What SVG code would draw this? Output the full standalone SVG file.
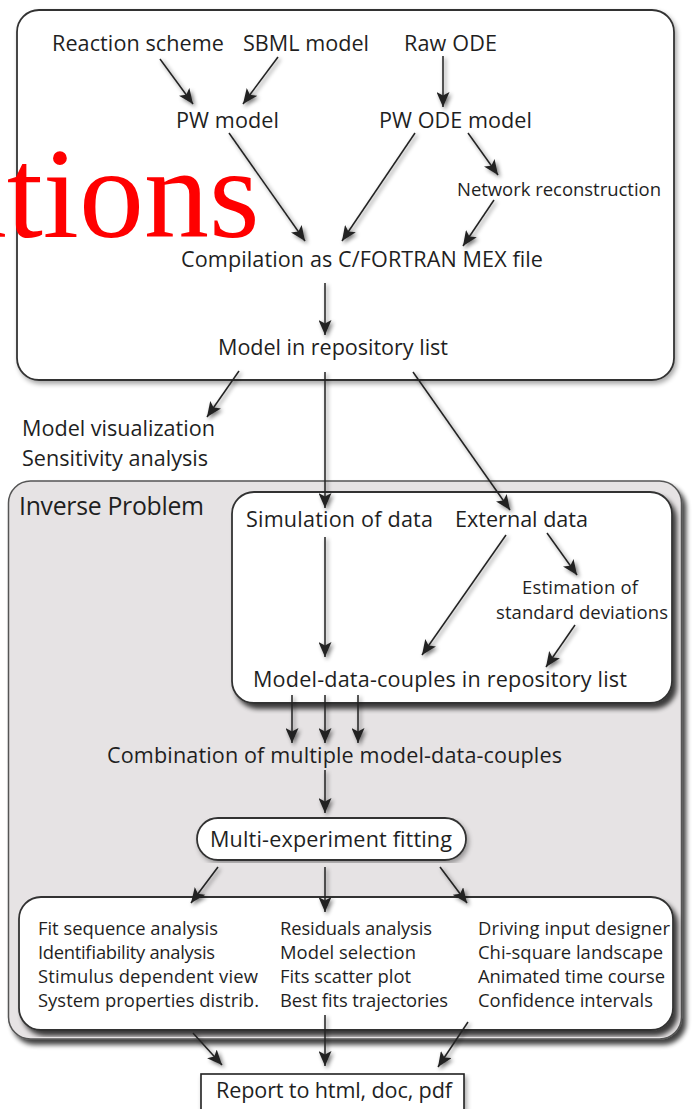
<svg xmlns="http://www.w3.org/2000/svg" width="698" height="1109" viewBox="0 0 698 1109">
<defs>
<style>
.t{font-family:"Open Sans","Noto Sans",sans-serif;fill:#1f1f1f;font-size:21.6px}
.s{font-size:18.5px}
.l{font-size:18.4px}
.h{font-size:24.8px}
.ln{stroke:#222;stroke-width:1.5;fill:none;marker-end:url(#ah)}
.box{fill:#fff;stroke:#333;stroke-width:1.8}
</style>
<marker id="ah" viewBox="0 0 16 13" markerUnits="userSpaceOnUse" markerWidth="16" markerHeight="13" refX="15" refY="6.5" orient="auto">
<path d="M0,0 L15,6.5 L0,13 L3.5,6.5 z" fill="#222"/>
</marker>
<filter id="as" x="-20%" y="-20%" width="140%" height="140%">
<feGaussianBlur in="SourceAlpha" stdDeviation="2.2" result="b"/>
<feOffset in="b" dx="1.5" dy="2" result="o"/>
<feComponentTransfer in="o" result="c"><feFuncA type="linear" slope="0.55"/></feComponentTransfer>
<feMerge><feMergeNode in="c"/><feMergeNode in="SourceGraphic"/></feMerge>
</filter>
<filter id="bs" x="-5%" y="-5%" width="110%" height="110%">
<feGaussianBlur in="SourceAlpha" stdDeviation="2.5" result="b"/>
<feOffset in="b" dx="2" dy="3" result="o"/>
<feComponentTransfer in="o" result="c"><feFuncA type="linear" slope="0.35"/></feComponentTransfer>
<feMerge><feMergeNode in="c"/><feMergeNode in="SourceGraphic"/></feMerge>
</filter>
<filter id="ds" x="-5%" y="-5%" width="110%" height="110%">
<feGaussianBlur in="SourceAlpha" stdDeviation="2.5" result="b"/>
<feOffset in="b" dx="4" dy="5" result="o"/>
<feComponentTransfer in="o" result="c"><feFuncA type="linear" slope="0.75"/></feComponentTransfer>
<feMerge><feMergeNode in="c"/><feMergeNode in="SourceGraphic"/></feMerge>
</filter>
</defs>
<rect width="698" height="1109" fill="#fff"/>

<g id="top-box"><rect class="box" x="17" y="10" width="657" height="370" rx="22" filter="url(#bs)"/></g>
<g id="inverse-problem"><rect x="8.5" y="481" width="673" height="558" rx="22" fill="#e6e3e4" stroke="#555" stroke-width="1.5" filter="url(#ds)"/>
<text class="t h" x="19" y="515" textLength="185">Inverse Problem</text></g>
<g id="data-box"><rect class="box" x="232" y="492" width="440" height="211" rx="22" filter="url(#ds)"/></g>
<g id="multi-fit"><rect class="box" x="197" y="818" width="269" height="42" rx="21" filter="url(#bs)"/>
<text class="t" x="210" y="847" textLength="242">Multi-experiment fitting</text></g>
<g id="analysis-box"><rect class="box" x="19" y="897" width="654" height="133" rx="22" filter="url(#ds)"/>
<text class="t l" x="38" y="935" textLength="180">Fit sequence analysis</text>
<text class="t l" x="38" y="959" textLength="177">Identifiability analysis</text>
<text class="t l" x="38" y="983" textLength="220">Stimulus dependent view</text>
<text class="t l" x="38" y="1007" textLength="221">System properties distrib.</text>
<text class="t l" x="280" y="935" textLength="152">Residuals analysis</text>
<text class="t l" x="280" y="959" textLength="136">Model selection</text>
<text class="t l" x="280" y="983" textLength="131">Fits scatter plot</text>
<text class="t l" x="280" y="1007" textLength="168">Best fits trajectories</text>
<text class="t l" x="478" y="935" textLength="192">Driving input designer</text>
<text class="t l" x="478" y="959" textLength="185">Chi-square landscape</text>
<text class="t l" x="478" y="983" textLength="187">Animated time course</text>
<text class="t l" x="478" y="1007" textLength="175">Confidence intervals</text></g>
<g id="report"><rect x="201" y="1074" width="263" height="45" fill="#fff" stroke="#222" stroke-width="1.6" filter="url(#bs)"/>
<text class="t" x="216" y="1098" textLength="236">Report to html, doc, pdf</text></g>

<g id="reaction-scheme"><text class="t" x="52" y="51" textLength="172">Reaction scheme</text></g>
<g id="sbml-model"><text class="t" x="243" y="51" textLength="126">SBML model</text></g>
<g id="raw-ode"><text class="t" x="404" y="51" textLength="93">Raw ODE</text></g>
<g id="pw-model"><text class="t" x="176" y="128" textLength="103">PW model</text></g>
<g id="pw-ode-model"><text class="t" x="379" y="128" textLength="153">PW ODE model</text></g>
<g id="network-reconstruction"><text class="t s" x="457" y="196" textLength="204">Network reconstruction</text></g>
<g id="compilation"><text class="t" x="181" y="267" textLength="362">Compilation as C/FORTRAN MEX file</text></g>
<g id="model-repo"><text class="t" x="218" y="355" textLength="230">Model in repository list</text></g>
<g id="model-vis"><text class="t" x="22" y="436" textLength="193">Model visualization</text>
<text class="t" x="22" y="466" textLength="186">Sensitivity analysis</text></g>
<g id="simulation"><text class="t" x="246" y="527" textLength="187">Simulation of data</text></g>
<g id="external-data"><text class="t" x="455" y="527" textLength="133">External data</text></g>
<g id="estimation"><text class="t s" x="522" y="594" textLength="116">Estimation of</text>
<text class="t s" x="496" y="619" textLength="172">standard deviations</text></g>
<g id="model-data-couples"><text class="t" x="253" y="687" textLength="374">Model-data-couples in repository list</text></g>
<g id="combination"><text class="t" x="107" y="763" textLength="455">Combination of multiple model-data-couples</text></g>

<g id="connectors" filter="url(#as)">
<line class="ln" x1="160" y1="59" x2="193" y2="104"/>
<line class="ln" x1="278" y1="57" x2="243" y2="104"/>
<line class="ln" x1="443" y1="56" x2="443" y2="107"/>
<line class="ln" x1="229" y1="133" x2="305" y2="241"/>
<line class="ln" x1="415" y1="133" x2="342" y2="241"/>
<line class="ln" x1="468" y1="133" x2="498" y2="175"/>
<line class="ln" x1="494" y1="200" x2="463" y2="246"/>
<line class="ln" x1="325" y1="283" x2="325" y2="335"/>
<line class="ln" x1="239" y1="371" x2="207" y2="417"/>
<line class="ln" x1="325" y1="372" x2="325" y2="508"/>
<line class="ln" x1="413" y1="372" x2="510" y2="510"/>
<line class="ln" x1="325" y1="537" x2="325" y2="657"/>
<line class="ln" x1="506" y1="535" x2="422" y2="655"/>
<line class="ln" x1="547" y1="533" x2="577" y2="575"/>
<line class="ln" x1="575" y1="625" x2="546" y2="667"/>
<line class="ln" x1="292" y1="695" x2="292" y2="743"/>
<line class="ln" x1="325" y1="695" x2="325" y2="743"/>
<line class="ln" x1="358" y1="695" x2="358" y2="743"/>
<line class="ln" x1="325" y1="770" x2="325" y2="813"/>
<line class="ln" x1="218" y1="867" x2="191" y2="903"/>
<line class="ln" x1="325" y1="867" x2="325" y2="912"/>
<line class="ln" x1="440" y1="867" x2="467" y2="903"/>
<line class="ln" x1="193" y1="1033" x2="222" y2="1065"/>
<line class="ln" x1="325" y1="1015" x2="325" y2="1066"/>
<line class="ln" x1="468" y1="1022" x2="438" y2="1067"/>
</g>

<text x="-51" y="237" font-family="Liberation Serif,serif" font-size="130" fill="#ff0000">ations</text>
</svg>
